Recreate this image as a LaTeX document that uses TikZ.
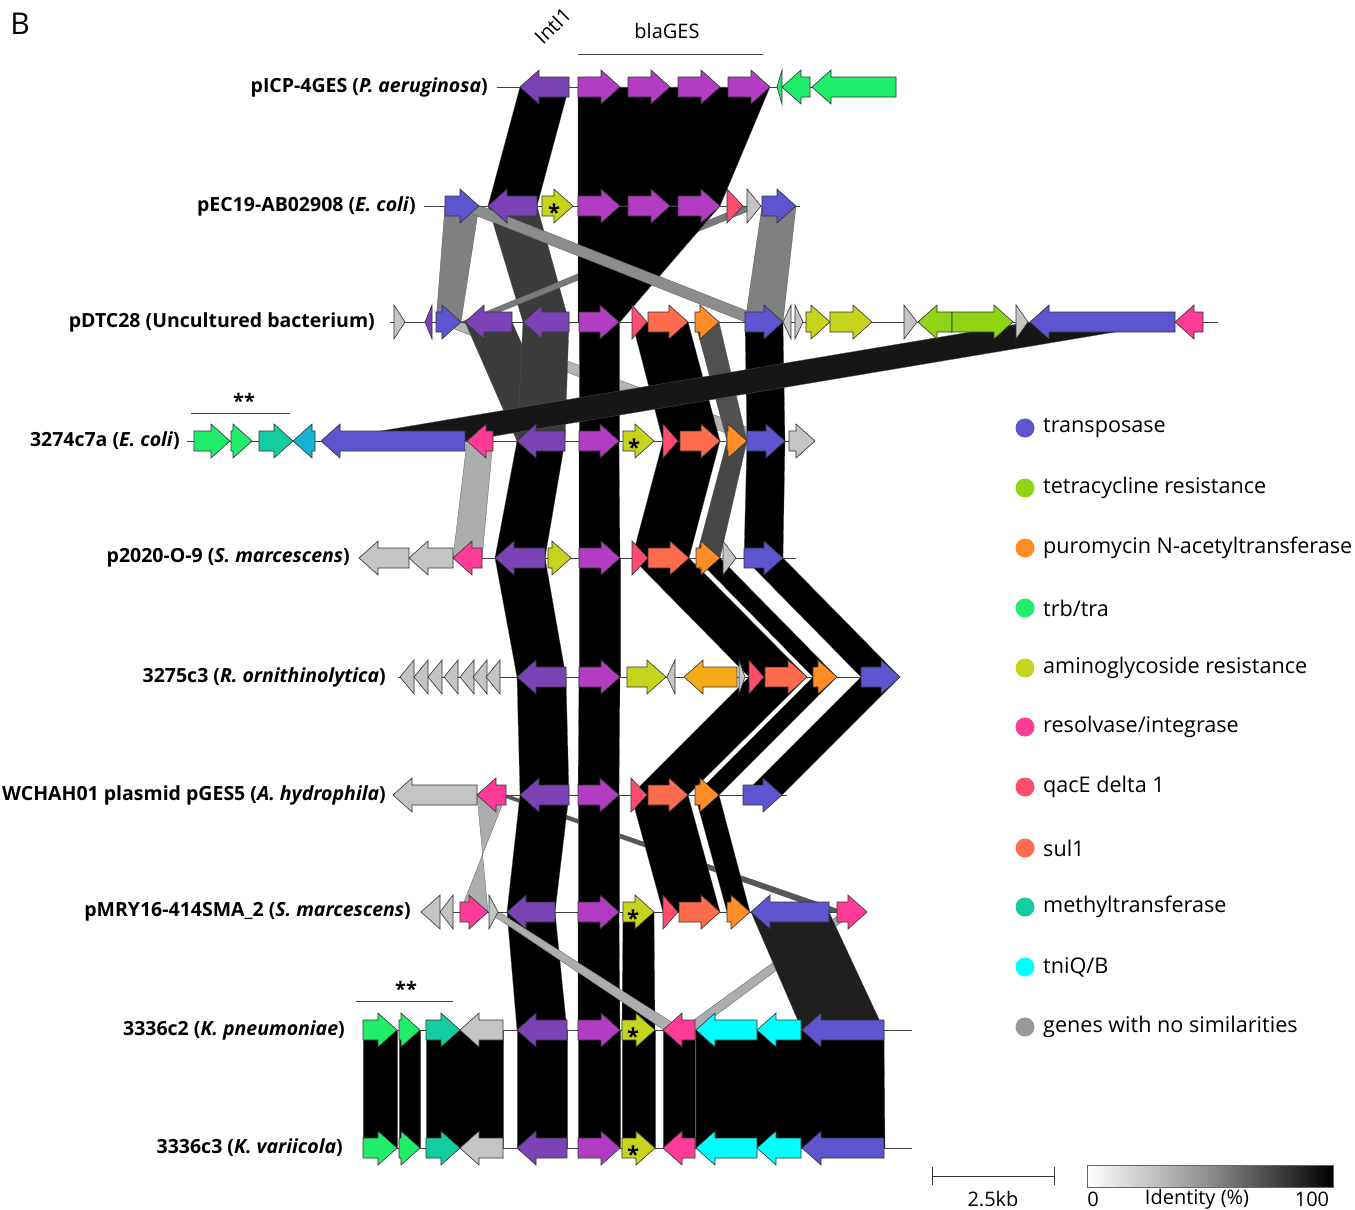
\documentclass[tikz,border=0pt]{standalone}
\usepackage{fontspec}
\setmainfont{Open Sans}
\definecolor{cInt}{HTML}{7B42B6}
\definecolor{cGES}{HTML}{B23CC2}
\definecolor{cTnp}{HTML}{5E54D0}
\definecolor{cTet}{HTML}{8FD415}
\definecolor{cPur}{HTML}{FF8C24}
\definecolor{cTrb}{HTML}{20EE6B}
\definecolor{cAmi}{HTML}{C6D41E}
\definecolor{cRes}{HTML}{FF3B98}
\definecolor{cQac}{HTML}{FF4D6D}
\definecolor{cSul}{HTML}{FF6B4D}
\definecolor{cMet}{HTML}{13CDA0}
\definecolor{cTnq}{HTML}{00FFFF}
\definecolor{cGray}{HTML}{C4C4C4}
\definecolor{cLegGray}{HTML}{999999}
\definecolor{cTeal}{HTML}{17B2D2}
\definecolor{cOrY}{HTML}{F5AA1A}
\definecolor{bDark}{HTML}{3C3C3C}
\definecolor{bMid}{HTML}{808080}
\definecolor{bMidB}{HTML}{7A7A7A}
\definecolor{bDiagG}{HTML}{8C8C8C}
\definecolor{bLight}{HTML}{B4B4B4}
\definecolor{bLG}{HTML}{ADADAD}
\definecolor{bDk2}{HTML}{505050}
\definecolor{bDk3}{HTML}{474747}
\definecolor{bDk4}{HTML}{575757}
\definecolor{bDk5}{HTML}{1F1F1F}
\definecolor{bDiag}{HTML}{161616}
\tikzset{
  gene/.style={draw=black!80, line width=0.6pt, line join=miter},
  bb/.style={draw=black!75, line width=0.8pt},
  bandst/.style={draw=black!65, line width=0.3pt},
  lab/.style={font=\bfseries\fontsize{19.5}{22}\selectfont, inner sep=0pt, anchor=east},
  leg/.style={font=\fontsize{21.6}{24}\selectfont, inner sep=0pt, anchor=west},
  ann/.style={font=\fontsize{20}{22}\selectfont, inner sep=0pt},
  star/.style={font=\bfseries\fontsize{22}{22}\selectfont, inner sep=0pt}
}
\newcommand{\geneR}[4]{\filldraw[gene,fill=#4] ({#1},{#3-10}) -- ({#2-19},{#3-10}) -- ({#2-19},{#3-17}) -- ({#2},{#3}) -- ({#2-19},{#3+17}) -- ({#2-19},{#3+10}) -- ({#1},{#3+10}) -- cycle;}
\newcommand{\geneL}[4]{\filldraw[gene,fill=#4] ({#2},{#3-10}) -- ({#1+19},{#3-10}) -- ({#1+19},{#3-17}) -- ({#1},{#3}) -- ({#1+19},{#3+17}) -- ({#1+19},{#3+10}) -- ({#2},{#3+10}) -- cycle;}
\newcommand{\triR}[4]{\filldraw[gene,fill=#4] ({#1},{#3-17}) -- ({#2},{#3}) -- ({#1},{#3+17}) -- cycle;}
\newcommand{\triL}[4]{\filldraw[gene,fill=#4] ({#2},{#3-17}) -- ({#1},{#3}) -- ({#2},{#3+17}) -- cycle;}
\newcommand{\cband}[7]{\filldraw[bandst,fill=#7] ({#1},{#3}) -- ({#2},{#3}) -- ({#5},{#6}) -- ({#4},{#6}) -- cycle;}
\begin{document}
\begin{tikzpicture}[x=1pt,y=-1pt]
\useasboundingbox (0,0) rectangle (1355,1210);
\fill[white] (0,0) rectangle (1355,1210);

% ---------- bands 1-2
\cband{520}{569}{87}{488}{537}{206}{black}
\cband{578}{770}{87}{578}{720}{206}{black}
% ---------- bands 2-3
\cband{488}{537}{206}{523}{569}{322}{bDark}
\cband{445}{479}{206}{436}{461}{322}{bMid}
\cband{762}{796}{206}{745}{783}{322}{bMid}
\cband{743}{761}{206}{461}{475}{322}{bMidB}
\cband{578}{720}{206}{578}{620}{322}{black}
\cband{452}{481}{206}{745}{775}{322}{bDiagG}
% ---------- bands 3-4
\cband{436}{461}{322}{747}{785}{441}{bLight}
\cband{465}{512}{322}{517}{565}{441}{bDark}
\cband{523}{569}{322}{517}{565}{441}{bDark}
\cband{579}{619}{322}{579}{619}{441}{black}
\cband{632}{688}{322}{663}{720}{441}{black}
\cband{695}{719}{322}{727}{747}{441}{bDk2}
\cband{745}{783}{322}{747}{785}{441}{black}
\cband{1030}{1175}{322}{321}{465}{441}{bDiag}
% ---------- bands 4-5
\cband{467}{493}{441}{453}{482}{558}{bLG}
\cband{517}{565}{441}{495}{545}{558}{black}
\cband{579}{619}{441}{579}{620}{558}{black}
\cband{663}{720}{441}{632}{689}{558}{black}
\cband{727}{747}{441}{696}{720}{558}{bDk3}
\cband{747}{785}{441}{744}{783}{558}{black}
% ---------- bands 5-6
\cband{495}{545}{558}{517}{566}{677}{black}
\cband{579}{620}{558}{579}{620}{677}{black}
\cband{632}{689}{558}{749}{807}{677}{black}
\cband{696}{720}{558}{813}{837}{677}{black}
\cband{744}{783}{558}{861}{900}{677}{black}
% ---------- bands 6-7
\cband{517}{566}{677}{520}{569}{795}{black}
\cband{579}{620}{677}{578}{619}{795}{black}
\cband{749}{807}{677}{631}{688}{795}{black}
\cband{813}{837}{677}{695}{719}{795}{black}
\cband{861}{900}{677}{743}{782}{795}{black}
% ---------- bands 7-8
\cband{498}{508}{795}{828}{846}{912}{bDk4}
\cband{477}{506}{795}{488}{460}{912}{bLG}
\cband{520}{569}{795}{507}{555}{912}{black}
\cband{578}{619}{795}{578}{619}{912}{black}
\cband{631}{688}{795}{663}{720}{912}{black}
\cband{695}{719}{795}{727}{750}{912}{black}
% ---------- bands 8-9
\cband{843}{855}{912}{680}{696}{1030}{bLG}
\cband{751}{829}{912}{802}{884}{1030}{bDk5}
\cband{507}{555}{912}{517}{567}{1030}{black}
\cband{578}{619}{912}{578}{620}{1030}{black}
\cband{623}{654}{912}{622}{655}{1030}{black}
\cband{488}{499}{912}{664}{684}{1030}{bLG}
% ---------- bands 9-10
\cband{363}{397}{1030}{363}{397}{1148}{black}
\cband{399}{420}{1030}{399}{420}{1148}{black}
\cband{426}{503}{1030}{426}{503}{1148}{black}
\cband{517}{567}{1030}{517}{567}{1148}{black}
\cband{578}{620}{1030}{578}{620}{1148}{black}
\cband{622}{655}{1030}{622}{655}{1148}{black}
\cband{663}{695}{1030}{663}{695}{1148}{black}
\cband{696}{884}{1030}{696}{885}{1148}{black}

% ---------- backbones
\draw[bb] (497,87) -- (896,87);
\draw[bb] (424,206) -- (800,206);
\draw[bb] (390,322) -- (1218,322);
\draw[bb] (187,441) -- (815,441);
\draw[bb] (359,558) -- (796,558);
\draw[bb] (398,677) -- (900,677);
\draw[bb] (393,795) -- (787,795);
\draw[bb] (421,912) -- (867,912);
\draw[bb] (363,1030) -- (912,1030);
\draw[bb] (363,1148) -- (912,1148);

% ---------- row 1
\geneL{520}{569}{87}{cInt}
\geneR{578}{620}{87}{cGES}
\geneR{628}{670}{87}{cGES}
\geneR{678}{720}{87}{cGES}
\geneR{728}{770}{87}{cGES}
\triL{777}{782}{87}{cTrb}
\geneL{782}{810}{87}{cTrb}
\geneL{812}{896}{87}{cTrb}
% ---------- row 2
\geneR{445}{479}{206}{cTnp}
\geneL{488}{537}{206}{cInt}
\geneR{542}{573}{206}{cAmi}
\geneR{578}{620}{206}{cGES}
\geneR{628}{670}{206}{cGES}
\geneR{678}{720}{206}{cGES}
\triR{727}{743}{206}{cQac}
\triR{747}{761}{206}{cGray}
\geneR{762}{796}{206}{cTnp}
% ---------- row 3
\triR{394}{405}{322}{cGray}
\triL{425}{432}{322}{cInt}
\geneR{436}{461}{322}{cTnp}
\geneL{465}{512}{322}{cInt}
\geneL{523}{569}{322}{cInt}
\geneR{579}{619}{322}{cGES}
\triR{632}{647}{322}{cQac}
\geneR{648}{688}{322}{cSul}
\geneR{695}{719}{322}{cPur}
\geneR{745}{783}{322}{cTnp}
\triL{783}{791}{322}{cGray}
\triR{795}{803}{322}{cGray}
\geneR{806}{830}{322}{cAmi}
\geneR{830}{872}{322}{cAmi}
\triR{904}{917}{322}{cGray}
\geneL{918}{952}{322}{cTet}
\geneR{952}{1013}{322}{cTet}
\triR{1016}{1028}{322}{cGray}
\geneL{1030}{1175}{322}{cTnp}
\geneL{1175}{1203}{322}{cRes}
% ---------- row 4
\geneR{194}{230}{441}{cTrb}
\geneR{231}{252}{441}{cTrb}
\geneR{259}{293}{441}{cMet}
\geneL{293}{315}{441}{cTeal}
\geneL{321}{465}{441}{cTnp}
\geneL{467}{493}{441}{cRes}
\geneL{517}{565}{441}{cInt}
\geneR{579}{619}{441}{cGES}
\geneR{623}{654}{441}{cAmi}
\triR{663}{678}{441}{cQac}
\geneR{680}{720}{441}{cSul}
\geneR{727}{747}{441}{cPur}
\geneR{747}{785}{441}{cTnp}
\geneR{789}{815}{441}{cGray}
% ---------- row 5
\geneL{359}{409}{558}{cGray}
\geneL{409}{453}{558}{cGray}
\geneL{453}{482}{558}{cRes}
\geneL{495}{545}{558}{cInt}
\geneR{548}{571}{558}{cAmi}
\geneR{579}{620}{558}{cGES}
\triR{632}{648}{558}{cQac}
\geneR{648}{689}{558}{cSul}
\geneR{696}{720}{558}{cPur}
\triR{723}{736}{558}{cGray}
\geneR{744}{783}{558}{cTnp}
% ---------- row 6
\foreach \t in {400,414,428,444,460,473,486} {\triL{\t}{\t+14}{677}{cGray}}
\geneL{517}{566}{677}{cInt}
\geneR{579}{620}{677}{cGES}
\geneR{627}{666}{677}{cAmi}
\triL{667}{675}{677}{cGray}
\geneL{684}{737}{677}{cOrY}
\triR{739}{745}{677}{cGray}
\triR{749}{764}{677}{cQac}
\geneR{765}{807}{677}{cSul}
\geneR{813}{837}{677}{cPur}
\geneR{861}{900}{677}{cTnp}
% ---------- row 7
\geneL{393}{477}{795}{cGray}
\geneL{477}{506}{795}{cRes}
\geneL{520}{569}{795}{cInt}
\geneR{578}{619}{795}{cGES}
\triR{631}{647}{795}{cQac}
\geneR{648}{688}{795}{cSul}
\geneR{695}{719}{795}{cPur}
\geneR{743}{782}{795}{cTnp}
% ---------- row 8
\triL{421}{440}{912}{cGray}
\triL{440}{453}{912}{cGray}
\geneR{460}{488}{912}{cRes}
\triR{489}{498}{912}{cGray}
\geneL{507}{555}{912}{cInt}
\geneR{578}{619}{912}{cGES}
\geneR{623}{654}{912}{cAmi}
\triR{663}{678}{912}{cQac}
\geneR{679}{720}{912}{cSul}
\geneR{727}{750}{912}{cPur}
\geneL{751}{829}{912}{cTnp}
\geneR{837}{867}{912}{cRes}
% ---------- rows 9 and 10
\foreach \yy in {1030,1148} {
\geneR{363}{397}{\yy}{cTrb}
\geneR{399}{420}{\yy}{cTrb}
\geneR{426}{460}{\yy}{cMet}
\geneL{460}{503}{\yy}{cGray}
\geneL{517}{567}{\yy}{cInt}
\geneR{578}{620}{\yy}{cGES}
\geneR{622}{655}{\yy}{cAmi}
\geneL{663}{695}{\yy}{cRes}
\geneL{696}{757}{\yy}{cTnq}
\geneL{757}{801}{\yy}{cTnq}
\geneL{802}{884}{\yy}{cTnp}
}

% ---------- asterisks
\node[star] (s2) at (554,212) {*};
\node[star] (s4) at (634,447) {*};
\node[star] (s8) at (633,918) {*};
\node[star] (s9) at (633,1036) {*};
\node[star] (s10) at (633,1154) {*};

% ---------- labels
\node[lab] (l1) at (488,87) {pICP-4GES (\textit{P. aeruginosa})};
\node[lab] (l2) at (416,206) {pEC19-AB02908 (\textit{E. coli})};
\node[lab] (l3) at (375,322) {pDTC28 (Uncultured bacterium)};
\node[lab] (l4) at (180,441) {3274c7a (\textit{E. coli})};
\node[lab] (l5) at (350,558) {p2020-O-9 (\textit{S. marcescens})};
\node[lab] (l6) at (386,677) {3275c3 (\textit{R. ornithinolytica})};
\node[lab] (l7) at (386,795) {WCHAH01 plasmid pGES5 (\textit{A. hydrophila})};
\node[lab] (l8) at (411,912) {pMRY16-414SMA\_2 (\textit{S. marcescens})};
\node[lab] (l9) at (345,1030) {3336c2 (\textit{K. pneumoniae})};
\node[lab] (l10) at (343,1148) {3336c3 (\textit{K. variicola})};

% ---------- top annotations
\node[font=\fontsize{30}{32}\selectfont, inner sep=0pt] (B) at (20,24) {B};
\node[ann, rotate=45] (intl) at (553,26) {IntI1};
\node[ann] (bla) at (667,31) {blaGES};
\draw[line width=0.9pt, black!75] (578,54) -- (763,54);
\draw[line width=0.9pt, black!75] (191,413) -- (290,413);
\node[ann, font=\bfseries\fontsize{20}{20}\selectfont] (ss1) at (244,401) {**};
\draw[line width=0.9pt, black!75] (356,1001) -- (453,1001);
\node[ann, font=\bfseries\fontsize{20}{20}\selectfont] (ss2) at (406,989) {**};

% ---------- legend
\foreach \yy/\cc/\tt [count=\i] in {428/cTnp/transposase, 488/cTet/tetracycline resistance, 548/cPur/puromycin N-acetyltransferase, 608/cTrb/trb\slash tra, 668/cAmi/aminoglycoside resistance, 727/cRes/resolvase\slash integrase, 787/cQac/qacE delta 1, 848/cSul/sul1, 907/cMet/methyltransferase, 967/cTnq/tniQ\slash B, 1027/cLegGray/genes with no similarities} {
  \fill[\cc] (1025,\yy) circle (9.5);
  \node[leg] (leg\i) at (1043,\yy) {\tt};
}

% ---------- scale bar and identity bar
\draw[line width=0.9pt, black!80] (932,1176) -- (1054,1176);
\draw[line width=0.9pt, black!80] (932,1167) -- (932,1185);
\draw[line width=0.9pt, black!80] (1054,1167) -- (1054,1185);
\node[ann] (kb) at (993,1199) {2.5kb};
\shade[left color=white, right color=black, middle color=black!45] (1087,1165) rectangle (1333,1187);
\draw[black!60, line width=0.5pt] (1087,1165) rectangle (1333,1187);
\node[ann] (id0) at (1093,1199) {0};
\node[ann] (idl) at (1197,1199) {Identity (\%)};
\node[ann] (id100) at (1312,1199) {100};
\end{tikzpicture}
\end{document}
